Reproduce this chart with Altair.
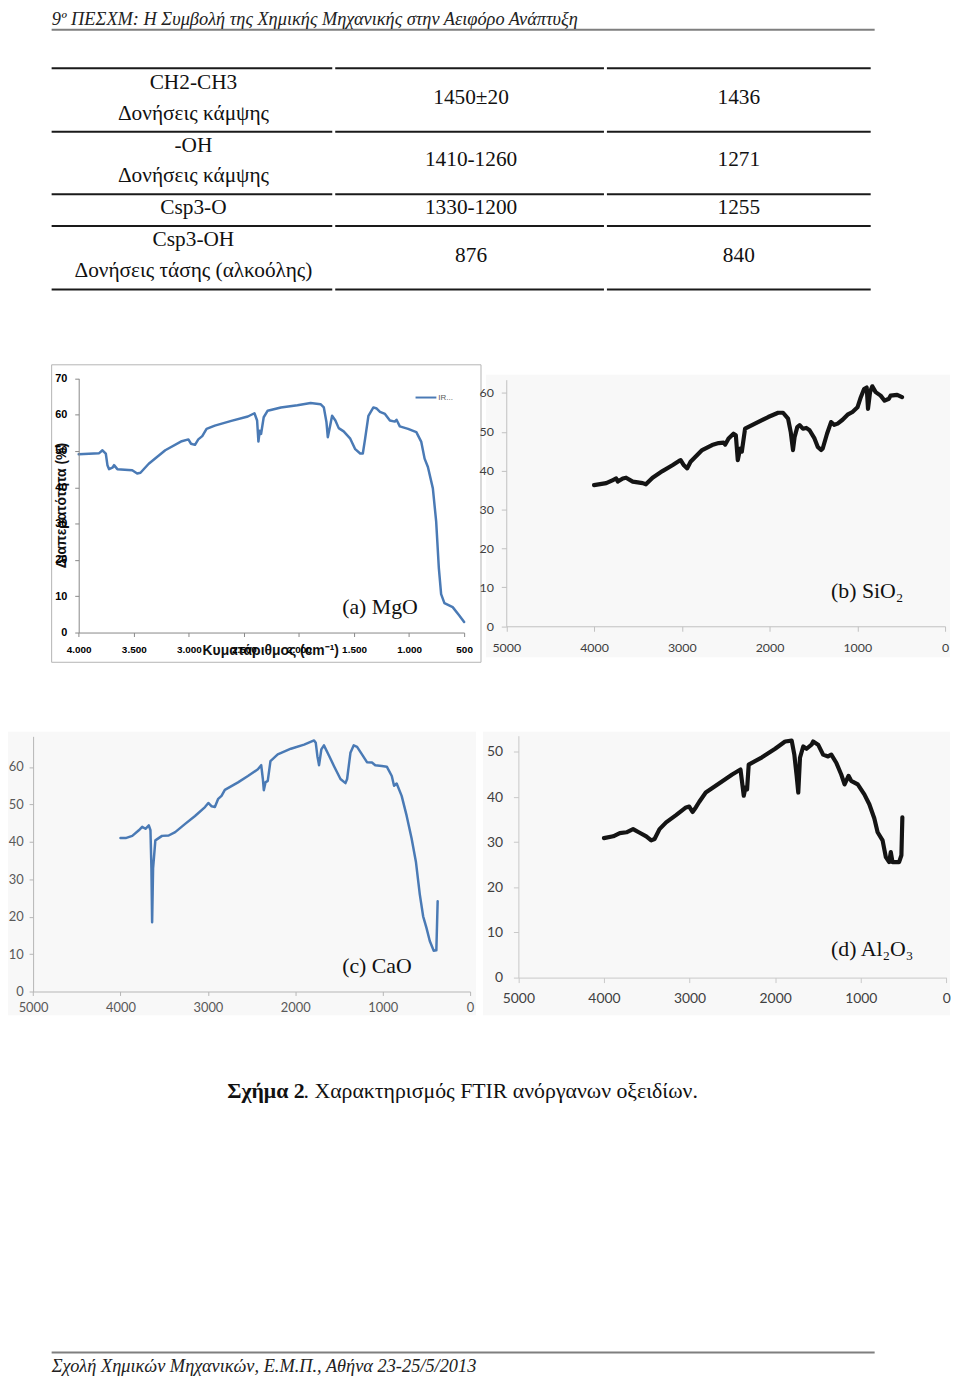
import altair as alt
import pandas as pd

# ----------------------------------------------------------------- text content
HEADER = "9º ΠΕΣΧΜ: Η Συμβολή της Χημικής Μηχανικής στην Αειφόρο Ανάπτυξη"
FOOTER = "Σχολή Χημικών Μηχανικών, Ε.Μ.Π., Αθήνα 23-25/5/2013"
CAPTION_BOLD = "Σχήμα 2"
CAPTION_REST = ". Χαρακτηρισμός FTIR ανόργανων οξειδίων."

GROUPS = ["CH2-CH3", "-OH", "Csp3-O", "Csp3-OH"]
MODES = ["Δονήσεις κάμψης", "Δονήσεις κάμψης", "", "Δονήσεις τάσης (αλκοόλης)"]
LITERATURE = ["1450±20", "1410-1260", "1330-1200", "876"]
MEASURED = ["1436", "1271", "1255", "840"]

PANEL_LABELS = ["(a) MgO", "(b) SiO₂", "(c) CaO", "(d) Al₂O₃"]
Y_TITLE_A = "Διαπερατότητα (%)"
X_TITLE_A = "Κυματάριθμος (cm⁻¹)"
LEGEND_A = "IR..."

# ----------------------------------------------------------------- spectra
MGO_WN = [4000, 3814, 3784, 3754, 3739, 3724, 3694, 3679, 3649, 3514,
          3469, 3439, 3364, 3214, 3064, 3004, 2980, 2944, 2914, 2878,
          2839, 2764, 2614, 2464, 2404, 2380, 2368, 2356, 2344, 2320,
          2284, 2164, 2014, 1894, 1804, 1774, 1750, 1738, 1720, 1699,
          1669, 1639, 1594, 1534, 1489, 1444, 1420, 1399, 1369, 1324,
          1294, 1264, 1219, 1174, 1129, 1114, 1084, 1009, 934, 889,
          859, 829, 784, 754, 730, 709, 679, 604, 544, 500]
MGO_T = [49.1, 49.4, 50.2, 49.3, 46.1, 45.0, 45.4, 46.1, 45.0, 44.7,
         43.8, 44.0, 46.5, 50.2, 52.7, 53.2, 52.0, 51.7, 53.2, 54.1,
         56.1, 57.0, 58.3, 59.5, 60.4, 58.4, 52.6, 55.6, 54.7, 59.3,
         61.1, 62.0, 62.6, 63.2, 62.9, 62.0, 57.9, 53.8, 56.5, 59.7,
         58.4, 56.3, 55.4, 53.4, 50.5, 49.3, 49.3, 53.4, 59.7, 62.0,
         61.7, 60.8, 60.2, 58.4, 58.1, 58.6, 56.8, 56.1, 55.2, 52.5,
         47.9, 45.6, 39.7, 30.6, 17.9, 10.6, 8.1, 7.0, 4.7, 2.9]

SIO2_WN = [4000, 3861, 3785, 3748, 3729, 3672, 3635, 3559, 3446, 3409,
           3333, 3220, 3107, 3032, 3013, 2976, 2938, 2900, 2844, 2768,
           2655, 2580, 2524, 2505, 2467, 2411, 2384, 2362, 2335, 2316,
           2279, 2166, 2015, 1902, 1846, 1789, 1759, 1733, 1714, 1684,
           1657, 1620, 1582, 1544, 1488, 1450, 1412, 1394, 1345, 1299,
           1262, 1224, 1168, 1111, 1055, 998, 960, 923, 893, 878,
           855, 829, 791, 734, 689, 640, 621, 546, 490]
SIO2_T = [36.3, 36.8, 37.6, 38.0, 37.2, 38.0, 38.2, 37.2, 36.8, 36.5,
          38.2, 39.9, 41.4, 42.5, 42.7, 41.4, 40.6, 42.3, 43.6, 45.3,
          46.6, 47.1, 47.2, 46.7, 48.3, 49.5, 49.1, 42.7, 45.7, 44.9,
          50.8, 52.1, 53.8, 54.9, 54.9, 53.4, 50.0, 45.3, 48.7, 51.2,
          51.7, 50.8, 51.0, 50.4, 48.3, 46.1, 45.3, 45.7, 49.5, 52.5,
          51.8, 52.1, 53.1, 54.4, 55.1, 56.3, 58.9, 61.0, 61.4, 55.9,
          60.2, 61.7, 60.2, 59.3, 58.0, 58.5, 59.3, 59.5, 58.9]

CAO_WN = [4000, 3941, 3865, 3790, 3752, 3714, 3676, 3657, 3646, 3638,
          3627, 3601, 3525, 3449, 3374, 3260, 3147, 3033, 2995, 2957,
          2920, 2882, 2844, 2806, 2655, 2542, 2428, 2390, 2371, 2360,
          2341, 2315, 2284, 2201, 2050, 1899, 1785, 1766, 1747, 1728,
          1702, 1672, 1615, 1558, 1483, 1426, 1407, 1369, 1331, 1293,
          1237, 1180, 1123, 1085, 1010, 953, 896, 870, 840, 783,
          726, 669, 620, 575, 537, 499, 461, 416, 386, 371]
CAO_T = [41.0, 41.0, 41.6, 43.1, 44.0, 43.5, 44.4, 43.1, 32.9, 18.5,
         32.9, 40.4, 41.6, 41.7, 42.6, 44.8, 46.9, 49.3, 50.4, 49.5,
         49.3, 51.5, 52.3, 53.9, 55.9, 57.6, 59.4, 60.5, 56.8, 53.8,
         55.9, 56.3, 61.6, 63.4, 64.9, 66.0, 67.1, 66.5, 62.9, 60.5,
         64.7, 65.8, 63.1, 60.3, 56.8, 55.7, 56.8, 63.8, 65.8, 65.4,
         63.4, 61.3, 61.2, 60.5, 60.3, 60.1, 57.6, 55.0, 55.6, 52.3,
         47.0, 40.9, 34.7, 25.9, 20.1, 17.0, 13.5, 10.9, 11.0, 24.1]

AL2O3_WN = [4000, 3892, 3815, 3737, 3660, 3583, 3506, 3448, 3409, 3351,
            3274, 3158, 3042, 3004, 2965, 2927, 2888, 2811, 2656, 2502,
            2405, 2386, 2367, 2347, 2328, 2309, 2154, 2000, 1884, 1807,
            1776, 1749, 1730, 1710, 1672, 1633, 1575, 1556, 1498, 1440,
            1382, 1344, 1286, 1228, 1189, 1143, 1112, 1035, 958, 900,
            842, 803, 745, 707, 668, 649, 629, 552, 525, 514]
AL2O3_T = [30.9, 31.3, 32.0, 32.2, 32.9, 32.1, 31.3, 30.4, 30.7, 32.9,
           34.4, 36.0, 37.7, 37.9, 36.7, 37.7, 38.9, 41.0, 43.0, 45.0,
           46.1, 43.2, 40.3, 42.1, 41.7, 47.2, 48.8, 50.7, 52.3, 52.5,
           49.4, 44.7, 41.0, 48.7, 51.2, 50.7, 51.6, 52.3, 51.6, 49.4,
           49.0, 49.4, 47.6, 45.0, 42.8, 44.7, 43.6, 42.8, 40.6, 38.4,
           35.3, 32.2, 30.4, 26.7, 25.6, 27.8, 25.6, 25.6, 27.1, 35.5]

# axis ticks
TICKS_A_X = [4000, 3500, 3000, 2500, 2000, 1500, 1000, 500]
TICKS_A_Y = [0, 10, 20, 30, 40, 50, 60, 70]
TICKS_X = [5000, 4000, 3000, 2000, 1000, 0]
TICKS_B_Y = [0, 10, 20, 30, 40, 50, 60]
TICKS_C_Y = [0, 10, 20, 30, 40, 50, 60]
TICKS_D_Y = [0, 10, 20, 30, 40, 50]

# ----------------------------------------------------------------- layout (page pixels)
W, H = 952, 1376
OFF = 8


def c(v):
    return v - OFF


SERIF = "Liberation Serif"
SANS = "Liberation Sans"
CAL = "Lato"

TABLE_RULE_Y = [63, 127, 190, 222, 286]
TABLE_SEGS = [(52, 335), (338, 609), (612, 878)]
COL_X = [195, 475, 745]
GROUP_Y = [84, 147, 210, 242]
MODE_Y = [115, 178, 0, 273]
VALUE_Y = [99, 162, 210, 258]


def text_layer(df, **kw):
    return alt.Chart(df).mark_text(**kw).encode(
        x=alt.X("x:Q", scale=None), y=alt.Y("y:Q", scale=None), text="t:N")


def rule_layer(df, **kw):
    return alt.Chart(df).mark_rule(**kw).encode(
        x=alt.X("x:Q", scale=None), x2=alt.X2("x2"), y=alt.Y("y:Q", scale=None))


def rect_layer(df, **kw):
    return alt.Chart(df).mark_rect(**kw).encode(
        x=alt.X("x:Q", scale=None), x2=alt.X2("x2"),
        y=alt.Y("y:Q", scale=None), y2=alt.Y2("y2"))


layers = []

# light scan backgrounds of the pasted panels
layers.append(rect_layer(pd.DataFrame({
    "x": [c(490), c(8), c(487)], "x2": [c(958), c(480), c(958)],
    "y": [c(372), c(732), c(732)], "y2": [c(657), c(1018), c(1018)]}),
    color="#f8f8f8"))
# frame of panel a
layers.append(rect_layer(pd.DataFrame({"x": [c(52)], "x2": [c(485)], "y": [c(362)], "y2": [c(662)]}),
                         fill="white", stroke="#b4b4b4", strokeWidth=1))

# header / footer rules
layers.append(rule_layer(pd.DataFrame({"x": [c(52), c(52)], "x2": [c(882), c(882)],
                                       "y": [c(24), c(1358)]}),
                         color="#7f7f7f", strokeWidth=2))
# table rules
rows = []
for ry in TABLE_RULE_Y:
    for x0, x1 in TABLE_SEGS:
        rows.append({"x": c(x0), "x2": c(x1), "y": c(ry)})
layers.append(rule_layer(pd.DataFrame(rows), color="#1a1a1a", strokeWidth=2))

# header & footer text
layers.append(text_layer(pd.DataFrame({"x": [c(52)], "y": [c(19.5)], "t": [HEADER]}),
                         font=SERIF, fontSize=18.5, fontStyle="italic", align="left",
                         baseline="alphabetic", color="#222"))
layers.append(text_layer(pd.DataFrame({"x": [c(52)], "y": [c(1378)], "t": [FOOTER]}),
                         font=SERIF, fontSize=18.5, fontStyle="italic", align="left",
                         baseline="alphabetic", color="#222"))

# table text
trows = []
for i in range(len(GROUPS)):
    trows.append({"x": c(COL_X[0]), "y": c(GROUP_Y[i]), "t": GROUPS[i]})
    if MODES[i]:
        trows.append({"x": c(COL_X[0]), "y": c(MODE_Y[i]), "t": MODES[i]})
    trows.append({"x": c(COL_X[1]), "y": c(VALUE_Y[i]), "t": LITERATURE[i]})
    trows.append({"x": c(COL_X[2]), "y": c(VALUE_Y[i]), "t": MEASURED[i]})
layers.append(text_layer(pd.DataFrame(trows), font=SERIF, fontSize=21.5, align="center",
                         baseline="alphabetic", color="#111"))

# caption
layers.append(text_layer(pd.DataFrame({"x": [c(229)], "y": [c(1101)], "t": [CAPTION_BOLD]}),
                         font=SERIF, fontSize=22, fontWeight="bold", align="left",
                         baseline="alphabetic", color="#111"))
layers.append(text_layer(pd.DataFrame({"x": [c(306)], "y": [c(1101)], "t": [CAPTION_REST]}),
                         font=SERIF, fontSize=22, align="left",
                         baseline="alphabetic", color="#111"))

# panel labels
layers.append(text_layer(pd.DataFrame({"x": [c(345), c(838), c(345), c(838)],
                                       "y": [c(613), c(597), c(975), c(958)],
                                       "t": PANEL_LABELS}),
                         font=SERIF, fontSize=22, align="left", baseline="alphabetic",
                         color="#111"))

# panel a titles and legend
layers.append(text_layer(pd.DataFrame({"x": [c(273)], "y": [c(651)], "t": [X_TITLE_A]}),
                         font=SANS, fontSize=14, fontWeight="bold", align="center",
                         baseline="middle", color="#111"))
layers.append(text_layer(pd.DataFrame({"x": [c(62)], "y": [c(504)], "t": [Y_TITLE_A]}),
                         font=SANS, fontSize=14, fontWeight="bold", align="center",
                         baseline="middle", angle=270, color="#111"))
layers.append(rule_layer(pd.DataFrame({"x": [c(419)], "x2": [c(440)], "y": [c(395)]}),
                         color="#4a7ab5", strokeWidth=2))
layers.append(text_layer(pd.DataFrame({"x": [c(442)], "y": [c(395)], "t": [LEGEND_A]}),
                         font=SANS, fontSize=8, align="left", baseline="middle",
                         color="#595959"))


def spectrum(wn, t, xdom, xr, ydom, yr, color, lw, xticks, yticks, font, fsx, fsy,
             weight, lcolor, dcolor, tick, padx, pady, xfmt=None):
    df = pd.DataFrame({"wn": wn, "t": t, "i": list(range(len(wn)))})
    xaxis = dict(orient="bottom", offset=c(yr[0]) - H, values=xticks, grid=False, title=None,
                 labelFont=font, labelFontSize=fsx, labelFontWeight=weight, labelColor=lcolor,
                 domainColor=dcolor, tickColor=dcolor, tickSize=tick, labelPadding=padx,
                 labelFlush=False, labelOverlap=False, zindex=1, format="d")
    if xfmt:
        xaxis["labelExpr"] = xfmt
    yaxis = dict(orient="left", offset=-c(xr[0]), values=yticks, grid=False, title=None,
                 labelFont=font, labelFontSize=fsy, labelFontWeight=weight, labelColor=lcolor,
                 domainColor=dcolor, tickColor=dcolor, tickSize=tick, labelPadding=pady,
                 labelFlush=False, labelOverlap=False, zindex=1, format="d")
    return alt.Chart(df).mark_line(color=color, strokeWidth=lw, strokeJoin="round",
                                   strokeCap="round").encode(
        x=alt.X("wn:Q", scale=alt.Scale(domain=xdom, range=[c(xr[0]), c(xr[1])],
                                        nice=False, zero=False), axis=alt.Axis(**xaxis)),
        y=alt.Y("t:Q", scale=alt.Scale(domain=ydom, range=[c(yr[0]), c(yr[1])],
                                       nice=False, zero=False), axis=alt.Axis(**yaxis)),
        order="i:Q")


layers.append(spectrum(MGO_WN, MGO_T, [4000, 500], [79.3, 468], [0, 70], [632, 375.7],
                       "#4a7ab5", 2.5, TICKS_A_X, TICKS_A_Y, SANS, 10, 11, "bold",
                       "#000000", "#888888", 4, 8, 8,
                       xfmt="replace(format(datum.value, ','), ',', '.')"))
layers.append(spectrum(SIO2_WN, SIO2_T, [5000, 0], [510.5, 953], [0, 63.4], [625.7, 377],
                       "#141414", 4.2, TICKS_X, TICKS_B_Y, CAL, 12.5, 12.5, "normal",
                       "#404040", "#c0c0c0", 5, 10, 8))
layers.append(spectrum(CAO_WN, CAO_T, [5000, 0], [33.3, 474], [0, 68.2], [994, 736.7],
                       "#4a7ab5", 2.5, TICKS_X, TICKS_C_Y, CAL, 13, 13, "normal",
                       "#595959", "#b5b5b5", 4, 6, 6))
layers.append(spectrum(AL2O3_WN, AL2O3_T, [5000, 0], [522.7, 954.3], [0, 53.6], [980, 736],
                       "#141414", 4.2, TICKS_X, TICKS_D_Y, CAL, 14, 14, "normal",
                       "#404040", "#c8c8c8", 5, 9, 11))

chart = alt.layer(*layers).resolve_scale(x="independent", y="independent").properties(
    width=W, height=H, padding=0, background="white",
    autosize=alt.AutoSizeParams(type="none")).configure_view(stroke=None)

chart.save("out.html", embed_options={"renderer": "svg", "actions": False})
